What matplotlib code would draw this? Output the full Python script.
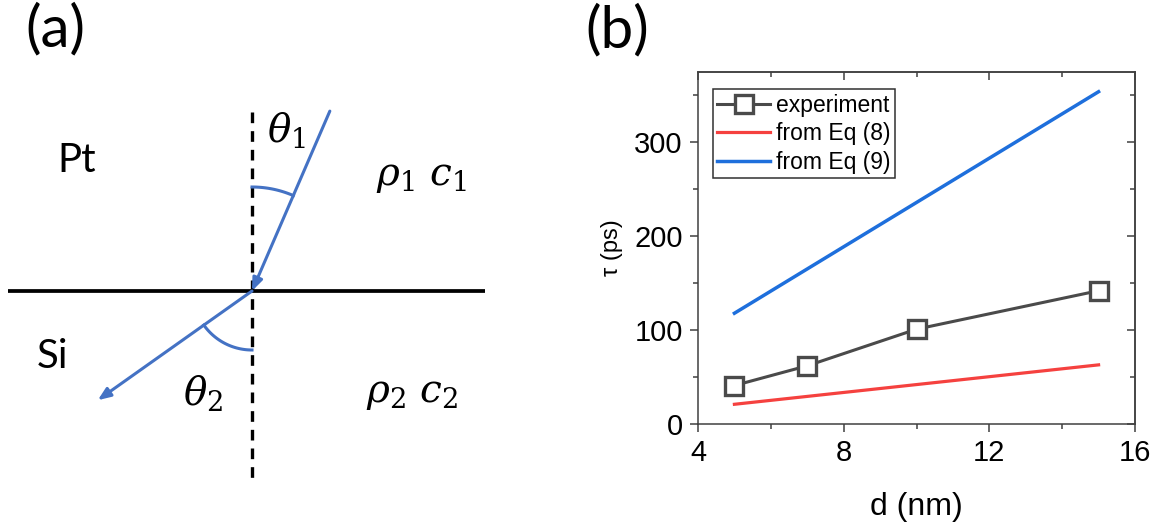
import numpy as np
import matplotlib
matplotlib.use("Agg")
import matplotlib.pyplot as plt
from matplotlib.ticker import MultipleLocator

plt.rcParams["mathtext.fontset"] = "dejavuserif"

# ---- panel (b) data ----
thickness_nm = [5, 7, 10, 15]
tau_experiment = [41, 62, 101, 142]
eq_thickness = [5, 15]
tau_eq8 = [21, 63]
tau_eq9 = [118, 354]
series_labels = ["experiment", "from Eq (8)", "from Eq (9)"]

# ---- panel (a) schematic geometry (pixel frame of the left panel) ----
hit_point = (252, 291)
incident_angle = 23.4      # degrees from the normal
refracted_angle = 54.7
incident_len = 196
refracted_len = 189
blue = "#4472C4"

fig = plt.figure(figsize=(11.73, 5.27), dpi=100)

# ================= panel (a) =================
ax_a = fig.add_axes([0, 0, 500 / 1173, 1])
ax_a.set_xlim(0, 500)
ax_a.set_ylim(527, 0)
ax_a.axis("off")

x0, y0 = hit_point
ax_a.plot([8, 485], [y0, y0], color="black", lw=2.7, solid_capstyle="butt")
ax_a.plot([x0, x0], [112, 480], color="black", lw=2.4, linestyle=(0, (3.2, 2.4)))

arrow = dict(arrowstyle="-|>,head_length=0.75,head_width=0.3",
             color=blue, lw=2.2, shrinkA=0, shrinkB=0)
t1 = np.radians(incident_angle)
start1 = (x0 + incident_len * np.sin(t1), y0 - incident_len * np.cos(t1))
ax_a.annotate("", xy=(x0, y0), xytext=start1, arrowprops=arrow)
t2 = np.radians(refracted_angle)
end2 = (x0 - refracted_len * np.sin(t2), y0 + refracted_len * np.cos(t2))
ax_a.annotate("", xy=end2, xytext=(x0, y0), arrowprops=arrow)

# angle arcs
phi = np.linspace(0, t1, 30)
ax_a.plot(x0 + 104 * np.sin(phi), y0 - 104 * np.cos(phi), color=blue, lw=2.2)
phi = np.linspace(0, t2, 30)
ax_a.plot(x0 - 59 * np.sin(phi), y0 + 59 * np.cos(phi), color=blue, lw=2.2)

ax_a.text(55, 30, "(a)", fontsize=42, family="Lato", ha="center", va="center")
ax_a.text(77, 161, "Pt", fontsize=29, family="Lato", ha="center", va="center")
ax_a.text(52, 357, "Si", fontsize=29, family="Lato", ha="center", va="center")
ax_a.text(286, 130, r"$\theta_1$", fontsize=28, ha="center", va="center")
ax_a.text(203, 393, r"$\theta_2$", fontsize=28, ha="center", va="center")
ax_a.text(422, 176, r"$\rho_1\ c_1$", fontsize=28, ha="center", va="center")
ax_a.text(412, 393, r"$\rho_2\ c_2$", fontsize=28, ha="center", va="center")

# ================= panel (b) =================
fig.text(617 / 1173, 1 - 31 / 527, "(b)", fontsize=42, family="Lato",
         ha="center", va="center")

ax = fig.add_axes([698 / 1173, 1 - 424 / 527, 437 / 1173, 352 / 527])
frame = "#404040"
ax.plot(thickness_nm, tau_experiment, color="#4a4a4a", lw=2.2, marker="s",
        markersize=13, markerfacecolor="white", markeredgewidth=2.4,
        label=series_labels[0], zorder=3)
ax.plot(eq_thickness, tau_eq8, color="#f5413f", lw=2.3, label=series_labels[1])
ax.plot(eq_thickness, tau_eq9, color="#1e6fdc", lw=2.5, label=series_labels[2])

ax.set_xlim(4, 16)
ax.set_ylim(0, 375)
ax.xaxis.set_major_locator(MultipleLocator(4))
ax.xaxis.set_minor_locator(MultipleLocator(2))
ax.yaxis.set_major_locator(MultipleLocator(100))
ax.yaxis.set_minor_locator(MultipleLocator(50))
for s in ax.spines.values():
    s.set_color(frame)
    s.set_linewidth(1.1)
ax.tick_params(which="both", direction="out", color=frame, width=1.1)
ax.tick_params(which="major", length=6, labelsize=21, pad=5)
ax.tick_params(which="minor", length=3.5)
for lab in ax.get_xticklabels() + ax.get_yticklabels():
    lab.set_family("Liberation Sans")

# mirrored inward ticks on top/right
top = ax.secondary_xaxis("top")
top.xaxis.set_major_locator(MultipleLocator(4))
top.xaxis.set_minor_locator(MultipleLocator(2))
right = ax.secondary_yaxis("right")
right.yaxis.set_major_locator(MultipleLocator(100))
right.yaxis.set_minor_locator(MultipleLocator(50))
for sec in (top, right):
    sec.tick_params(which="both", direction="in", color=frame, width=1.1,
                    labeltop=False, labelright=False)
    sec.tick_params(which="major", length=6)
    sec.tick_params(which="minor", length=3.5)
    for s in sec.spines.values():
        s.set_color(frame)
        s.set_linewidth(1.1)

ax.set_xlabel("d (nm)", fontsize=23, family="Liberation Sans", labelpad=18)
ax.set_ylabel("τ (ps)", fontsize=17, family="Liberation Sans", labelpad=8)

leg = ax.legend(loc="upper left", bbox_to_anchor=(0.034, 0.951), borderaxespad=0,
                prop=dict(family="Liberation Sans", size=16.5), fancybox=False,
                edgecolor="#303030", framealpha=1, handlelength=2.3,
                handletextpad=0.25, borderpad=0.2, labelspacing=0.24)
leg.get_frame().set_linewidth(1.1)

fig.savefig("out.png", dpi=100)
